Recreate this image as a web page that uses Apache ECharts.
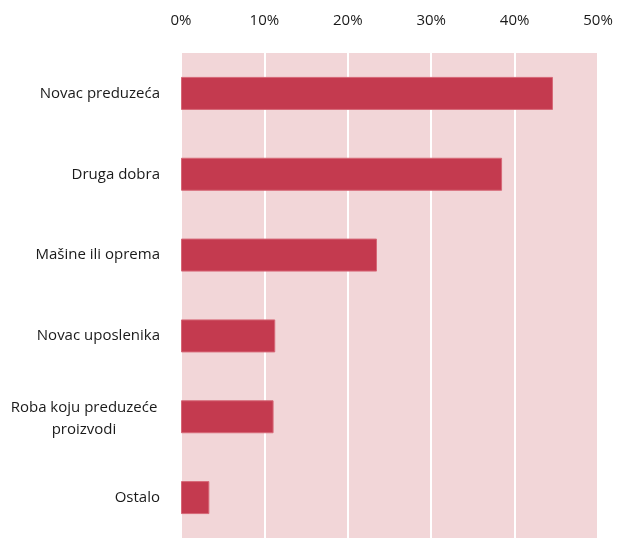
<!DOCTYPE html>
<html>
<head>
<meta charset="utf-8">
<script src="https://cdn.jsdelivr.net/npm/echarts@6/dist/echarts.min.js"></script>
<style>
  html, body { margin: 0; padding: 0; background: #ffffff; }
  #chart { width: 617px; height: 538px; }
</style>
</head>
<body>
<div id="chart"></div>
<script>
// Categories (top to bottom) and their shares in percent
const categories = [
  'Novac preduzeća',
  'Druga dobra',
  'Mašine ili oprema',
  'Novac uposlenika',
  'Roba koju preduzeće\nproizvodi',
  'Ostalo'
];
const shares = [44.6, 38.5, 23.5, 11.3, 11.1, 3.4];
const axisTicks = [0, 10, 20, 30, 40, 50];

const FONT = '"Open Sans", "Noto Sans", sans-serif';

const chart = echarts.init(document.getElementById('chart'), null, { renderer: 'canvas' });

chart.setOption({
  backgroundColor: '#ffffff',
  animation: false,
  grid: {
    left: 181,
    right: 19,
    top: 53,
    height: 490,
    show: true,
    backgroundColor: '#F2D6D8',
    borderWidth: 0
  },
  xAxis: {
    type: 'value',
    position: 'top',
    min: axisTicks[0],
    max: axisTicks[axisTicks.length - 1],
    interval: axisTicks[1] - axisTicks[0],
    axisLine: { show: false },
    axisTick: { show: false },
    splitLine: { show: true, lineStyle: { color: '#ffffff', width: 2 } },
    axisLabel: {
      margin: 25,
      fontFamily: FONT,
      fontSize: 15,
      color: '#1a1a1a',
      formatter: '{value}%'
    }
  },
  yAxis: {
    type: 'category',
    inverse: true,
    data: categories,
    axisLine: { show: false },
    axisTick: { show: false },
    splitLine: { show: false },
    axisLabel: {
      margin: 21,
      fontFamily: FONT,
      fontSize: 15,
      color: '#1a1a1a',
      formatter: function (v) {
        if (v.indexOf('\n') >= 0) {
          // two-line label: centred lines, first line a bit taller
          const parts = v.split('\n');
          return '{a|' + parts[0] + '}\n{b|' + parts[1] + '}';
        }
        return v;
      },
      rich: {
        a: {
          width: 152,
          align: 'center',
          fontFamily: FONT,
          fontSize: 15,
          color: '#1a1a1a',
          lineHeight: 26
        },
        b: {
          width: 152,
          align: 'center',
          fontFamily: FONT,
          fontSize: 15,
          color: '#1a1a1a',
          lineHeight: 18
        }
      }
    }
  },
  series: [{
    type: 'bar',
    data: shares,
    barWidth: 33,
    itemStyle: {
      color: '#C43A4F',
      borderColor: '#D66877',
      borderWidth: 1
    },
    silent: true
  }]
});
</script>
</body>
</html>
